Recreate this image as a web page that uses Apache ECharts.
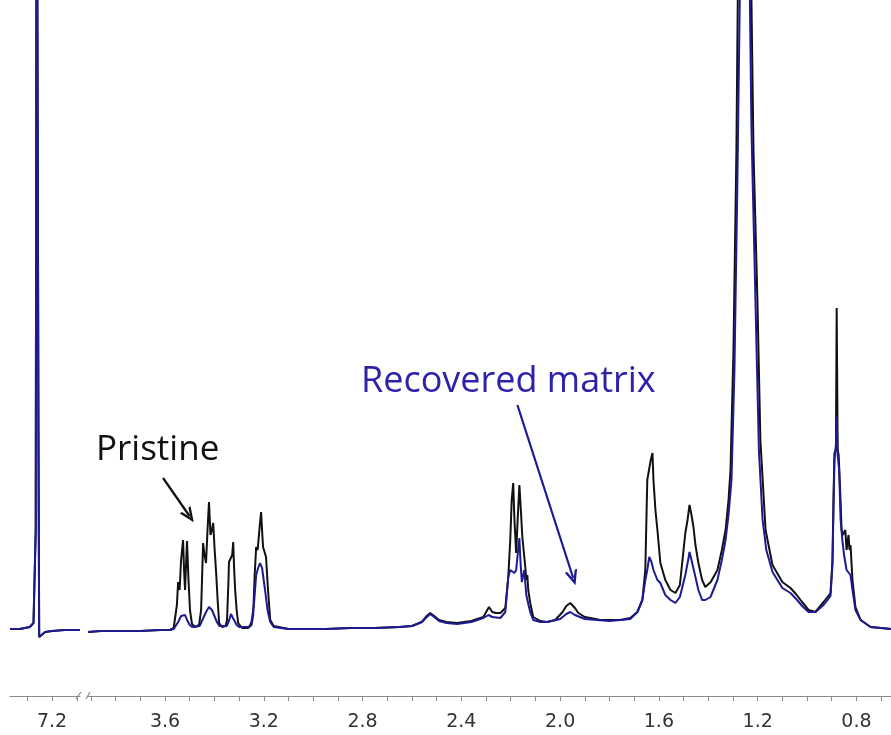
<!DOCTYPE html>
<html>
<head>
<meta charset="utf-8">
<script src="https://cdn.jsdelivr.net/npm/echarts@6/dist/echarts.min.js"></script>
<style>
  html, body { margin: 0; padding: 0; background: #fff; }
  #main { width: 891px; height: 735px; }
</style>
</head>
<body>
<div id="main"></div>
<script>
// chemical shift (ppm), intensity (arb.)
// left piece of the broken axis (CHCl3 line)
var solventPristine = [
  [7.37, 1], [7.33, 1], [7.29, 3], [7.275, 7], [7.266, 100], [7.262, 900], [7.258, 900],
  [7.255, 200], [7.252, -7], [7.245, -5], [7.228, -2], [7.20, -1], [7.15, 0], [7.087, 0]
];
var solventRecovered = [
  [7.37, 1], [7.33, 1], [7.29, 3], [7.275, 7], [7.266, 100], [7.262, 900], [7.258, 900],
  [7.255, 200], [7.252, -7], [7.245, -5], [7.228, -2], [7.20, -1], [7.15, 0], [7.087, 0]
];

// right piece, pristine (black)
var pristine = [
  [3.912, -2], [3.86, -1], [3.78, -1], [3.70, -1], [3.62, 0], [3.58, 0], [3.565, 2],
  [3.559, 4], [3.552, 25], [3.547, 48], [3.541, 40], [3.535, 70], [3.527, 90], [3.523, 60],
  [3.519, 40], [3.515, 65], [3.511, 89], [3.505, 50], [3.499, 20], [3.491, 6], [3.478, 3],
  [3.462, 5], [3.454, 20], [3.449, 60], [3.446, 87], [3.440, 75], [3.434, 67], [3.428, 100],
  [3.422, 128], [3.416, 95], [3.410, 100], [3.405, 107], [3.399, 80], [3.393, 57], [3.387, 30],
  [3.381, 7], [3.369, 3],
  [3.355, 4], [3.349, 10], [3.343, 50], [3.341, 68], [3.335, 68], [3.328, 75], [3.324, 88],
  [3.320, 60], [3.316, 40], [3.310, 20], [3.304, 7], [3.288, 2], [3.264, 2],
  [3.250, 5], [3.243, 15], [3.237, 55], [3.231, 83], [3.225, 80], [3.218, 100], [3.211, 118],
  [3.206, 95], [3.203, 83], [3.197, 78], [3.191, 73], [3.183, 40], [3.174, 10], [3.160, 4],
  [3.154, 2], [3.10, 1], [3.05, 1], [2.95, 1], [2.85, 2], [2.75, 2], [2.65, 3],
  [2.60, 4], [2.56, 8], [2.54, 14], [2.526, 17], [2.51, 14], [2.49, 10], [2.46, 8], [2.417, 7],
  [2.36, 9], [2.311, 13], [2.295, 20], [2.288, 23], [2.275, 18], [2.26, 17], [2.242, 17],
  [2.222, 22], [2.210, 53], [2.202, 90], [2.196, 130], [2.190, 147], [2.185, 110], [2.178, 77],
  [2.172, 110], [2.165, 145], [2.159, 120], [2.153, 93], [2.145, 93], [2.140, 60], [2.137, 50],
  [2.133, 55], [2.129, 40], [2.121, 27], [2.109, 13], [2.08, 9], [2.052, 8], [2.02, 10],
  [1.99, 18], [1.975, 24], [1.959, 27], [1.94, 22], [1.926, 17], [1.90, 13], [1.878, 12],
  [1.837, 10], [1.80, 10], [1.756, 10], [1.716, 12], [1.687, 18], [1.667, 30], [1.655, 60],
  [1.647, 150], [1.640, 150], [1.633, 170], [1.626, 177], [1.622, 150], [1.614, 120],
  [1.606, 100], [1.594, 67], [1.574, 50], [1.553, 40], [1.533, 37], [1.515, 45], [1.493, 97],
  [1.484, 110], [1.476, 125], [1.468, 115], [1.460, 103], [1.452, 85], [1.440, 67],
  [1.425, 50], [1.412, 43], [1.39, 48], [1.363, 60], [1.345, 80], [1.330, 100], [1.318, 130],
  [1.310, 160], [1.298, 280], [1.286, 480], [1.278, 700], [1.255, 900], [1.229, 700],
  [1.217, 480], [1.201, 330], [1.189, 190], [1.168, 100], [1.14, 65], [1.10, 48], [1.067, 42],
  [1.045, 36], [1.039, 34], [1.02, 28], [0.994, 20], [0.966, 18], [0.933, 28], [0.917, 33],
  [0.905, 37], [0.897, 70], [0.893, 130], [0.889, 177], [0.883, 180], [0.880, 322],
  [0.876, 180], [0.872, 175], [0.866, 140], [0.860, 100], [0.855, 95], [0.850, 93],
  [0.845, 100], [0.840, 80], [0.832, 95], [0.828, 80], [0.824, 85], [0.816, 50], [0.804, 23],
  [0.783, 10], [0.743, 3], [0.70, 2], [0.66, 1]
];

// right piece, recovered matrix (blue)
var recovered = [
  [3.912, -2], [3.86, -1], [3.78, -1], [3.70, -1], [3.62, 0], [3.58, 0], [3.565, 1],
  [3.56, 2], [3.547, 8], [3.535, 14], [3.527, 12], [3.519, 15], [3.511, 10], [3.50, 5],
  [3.49, 3], [3.46, 4], [3.445, 12], [3.434, 18], [3.422, 23], [3.41, 20], [3.40, 14],
  [3.39, 8], [3.38, 4], [3.35, 4], [3.34, 10], [3.333, 16], [3.325, 12], [3.31, 5], [3.30, 3],
  [3.26, 3], [3.25, 8], [3.24, 25], [3.231, 55], [3.223, 62], [3.215, 67], [3.207, 62],
  [3.195, 40], [3.185, 20], [3.174, 8], [3.16, 3], [3.10, 1], [3.05, 1], [2.95, 1], [2.85, 2],
  [2.75, 2], [2.65, 3], [2.60, 4], [2.56, 8], [2.54, 13], [2.526, 16], [2.51, 13], [2.49, 9],
  [2.46, 7], [2.417, 6], [2.36, 8], [2.311, 12], [2.29, 15], [2.275, 13], [2.242, 12],
  [2.222, 18], [2.210, 53], [2.202, 60], [2.195, 62], [2.185, 57], [2.178, 60], [2.170, 80],
  [2.165, 92], [2.160, 66], [2.155, 48], [2.145, 60], [2.137, 35], [2.128, 25], [2.12, 17],
  [2.109, 10], [2.08, 8], [2.052, 8], [2.0, 11], [1.975, 16], [1.959, 18], [1.94, 15],
  [1.90, 11], [1.85, 10], [1.80, 9], [1.756, 10], [1.716, 11], [1.687, 18], [1.667, 30],
  [1.655, 50], [1.647, 60], [1.639, 73], [1.630, 68], [1.622, 60], [1.606, 50], [1.594, 47],
  [1.574, 35], [1.553, 30], [1.533, 27], [1.515, 33], [1.505, 43], [1.493, 55], [1.480, 72],
  [1.476, 78], [1.468, 70], [1.452, 53], [1.440, 40], [1.425, 30], [1.412, 30], [1.391, 33],
  [1.363, 50], [1.345, 70], [1.330, 90], [1.318, 115], [1.306, 150], [1.294, 260],
  [1.282, 450], [1.272, 640], [1.266, 720], [1.25, 900], [1.235, 700], [1.225, 500],
  [1.209, 330], [1.195, 180], [1.18, 110], [1.165, 80], [1.14, 58], [1.10, 42], [1.067, 37],
  [1.04, 30], [1.02, 24], [0.994, 18], [0.966, 18], [0.933, 25], [0.917, 30], [0.905, 34],
  [0.897, 65], [0.893, 120], [0.889, 170], [0.883, 185], [0.880, 213], [0.876, 175],
  [0.870, 160], [0.864, 110], [0.857, 90], [0.85, 75], [0.84, 60], [0.832, 60], [0.824, 55],
  [0.816, 40], [0.804, 20], [0.783, 10], [0.743, 3], [0.70, 2], [0.66, 1]
];

// axis ticks and labels
var leftTicks = [7.3, 7.2, 7.1];
var leftLabels = [7.2];
var rightTicks = [3.9, 3.8, 3.7, 3.6, 3.5, 3.4, 3.3, 3.2, 3.1, 3.0, 2.9, 2.8, 2.7, 2.6, 2.5,
  2.4, 2.3, 2.2, 2.1, 2.0, 1.9, 1.8, 1.7, 1.6, 1.5, 1.4, 1.3, 1.2, 1.1, 1.0, 0.9, 0.8, 0.7];
var rightLabels = [3.6, 3.2, 2.8, 2.4, 2.0, 1.6, 1.2, 0.8];

// arrows: [start, end] in (ppm, intensity)
var pristineArrow = [[3.608, 152], [3.501, 114]];
var recoveredArrow = [[2.173, 225], [1.947, 52]];

var BLACK = "#111111";
var BLUE = "#1d1a92";
var arrowHead = "path://M0,10 L5,0 L10,10 L8,10 L5,4 L2,10 Z";

var myChart = echarts.init(document.getElementById("main"));

function xAxisFor(idx, min, max, ticks, labels) {
  return {
    type: "value",
    gridIndex: idx,
    inverse: true,
    min: min,
    max: max,
    splitLine: { show: false },
    axisLine: { onZero: false, lineStyle: { color: "#8a8a8a", width: 1.2 } },
    axisTick: { show: true, length: 5, inside: false, customValues: ticks, lineStyle: { color: "#8a8a8a" } },
    axisLabel: {
      customValues: labels,
      margin: 17,
      fontFamily: "DejaVu Sans",
      fontSize: 19,
      color: "#333",
      formatter: function (v) { return v.toFixed(1); }
    }
  };
}

function yAxisFor(idx) {
  return { type: "value", gridIndex: idx, min: -66, max: 630, show: false };
}

function arrowLine(pts, color) {
  return {
    silent: true,
    symbol: ["none", arrowHead],
    symbolSize: [13, 15],
    label: { show: false },
    lineStyle: { color: color, width: 2.2, type: "solid" },
    data: [[{ coord: pts[0] }, { coord: pts[1] }]]
  };
}

myChart.setOption({
  animation: false,
  backgroundColor: "#fff",
  grid: [
    { left: 10, width: 70, top: 0, bottom: 39 },
    { left: 88, right: 0, top: 0, bottom: 39 }
  ],
  xAxis: [
    xAxisFor(0, 7.087, 7.37, leftTicks, leftLabels),
    xAxisFor(1, 0.66, 3.912, rightTicks, rightLabels)
  ],
  yAxis: [yAxisFor(0), yAxisFor(1)],
  series: [
    {
      name: "Pristine", type: "line", xAxisIndex: 0, yAxisIndex: 0,
      data: solventPristine, showSymbol: false, lineStyle: { color: BLACK, width: 2 }
    },
    {
      name: "Recovered matrix", type: "line", xAxisIndex: 0, yAxisIndex: 0,
      data: solventRecovered, showSymbol: false, lineStyle: { color: BLUE, width: 2 }
    },
    {
      name: "Pristine", type: "line", xAxisIndex: 1, yAxisIndex: 1,
      data: pristine, showSymbol: false, lineStyle: { color: BLACK, width: 2 },
      markLine: arrowLine(pristineArrow, BLACK)
    },
    {
      name: "Recovered matrix", type: "line", xAxisIndex: 1, yAxisIndex: 1,
      data: recovered, showSymbol: false, lineStyle: { color: BLUE, width: 2 },
      markLine: arrowLine(recoveredArrow, BLUE)
    }
  ],
  graphic: [
    {
      type: "text", left: 96, top: 433,
      style: { text: "Pristine", fontFamily: "Open Sans", fontSize: 35, fill: "#111" }
    },
    {
      type: "text", left: 361, top: 364,
      style: { text: "Recovered matrix", fontFamily: "Open Sans", fontSize: 36, fill: "#2e22a8" }
    },
    // axis break marks
    { type: "line", shape: { x1: 76, y1: 699, x2: 81, y2: 692 }, style: { stroke: "#8a8a8a", lineWidth: 1.2 } },
    { type: "line", shape: { x1: 86, y1: 699, x2: 90, y2: 692 }, style: { stroke: "#8a8a8a", lineWidth: 1.2 } }
  ]
});
</script>
</body>
</html>
